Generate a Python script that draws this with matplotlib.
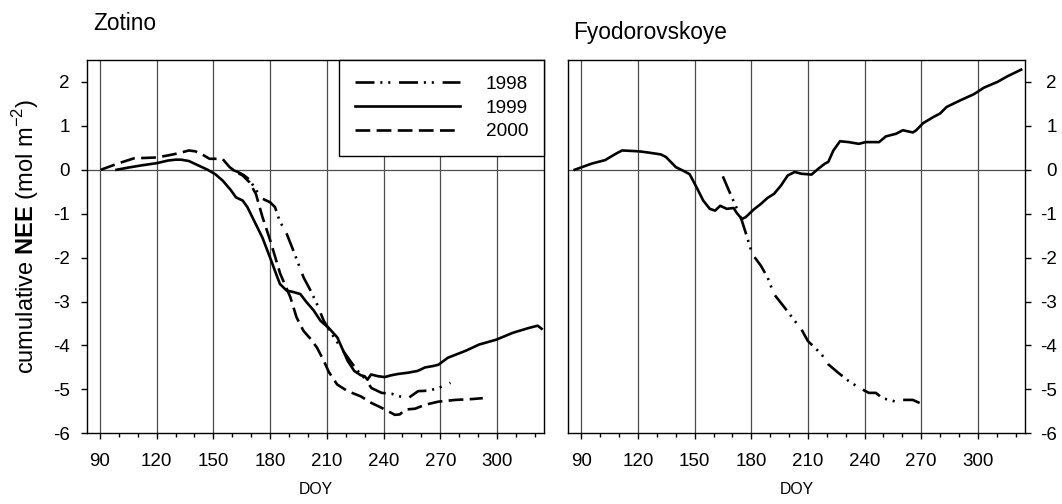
import matplotlib
matplotlib.use("Agg")
import matplotlib.pyplot as plt
from matplotlib.lines import Line2D

plt.rcParams['font.family'] = ['Liberation Sans', 'DejaVu Sans']
plt.rcParams['mathtext.fontset'] = 'custom'
plt.rcParams['mathtext.rm'] = 'Liberation Sans'
plt.rcParams['mathtext.bf'] = 'Liberation Sans:bold'
plt.rcParams['axes.unicode_minus'] = False

# Zotino
zot_1998_doy = [160, 163, 166, 169, 172.7, 176, 180, 182.6, 185, 188.8, 192.3, 197.7, 201.4, 204.8,
                208.4, 212.8, 217.6, 223, 226.4, 230, 233.6, 239, 244.3, 248.6, 253, 258.3, 263.7,
                269, 275.4]
zot_1998_nee = [0.0, -0.05, -0.12, -0.22, -0.47, -0.66, -0.74, -0.85, -1.16, -1.46, -1.84, -2.45,
                -2.75, -3.06, -3.44, -3.75, -4.06, -4.39, -4.58, -4.75, -4.97, -5.08, -5.1, -5.16,
                -5.2, -5.04, -5.03, -4.97, -4.85]

zot_1999_doy = [98.8, 105, 112, 120, 126, 130, 133, 137, 142, 147, 151, 155, 159, 162, 165.5, 168,
                172, 176, 180, 183, 185.2, 188.7, 192, 196, 199, 203, 206.7, 211, 215.6, 221,
                224.5, 228, 230, 231.5, 233.4, 237, 240.6, 244, 247.6, 253, 258, 262, 266, 269,
                274, 283.5, 290.5, 299.5, 308.5, 317, 321.5, 323.6]
zot_1999_nee = [0.0, 0.05, 0.1, 0.15, 0.21, 0.23, 0.23, 0.2, 0.1, 0.0, -0.1, -0.25, -0.45, -0.63,
                -0.7, -0.85, -1.2, -1.55, -2.0, -2.35, -2.6, -2.75, -2.78, -2.83, -3.0, -3.2,
                -3.44, -3.6, -3.82, -4.35, -4.58, -4.68, -4.7, -4.78, -4.66, -4.7, -4.72, -4.68,
                -4.65, -4.62, -4.58, -4.5, -4.47, -4.44, -4.28, -4.12, -3.98, -3.87, -3.71, -3.6,
                -3.55, -3.62]

zot_2000_doy = [90.5, 100, 108, 120, 126.4, 132, 137, 140.5, 144, 148, 152, 155, 158.6, 162,
                165.5, 169, 172.5, 176, 180, 185.3, 190.7, 194, 197.7, 201.4, 204.8, 208.4, 211,
                215.5, 221, 228, 233.6, 239, 242.5, 246, 248.6, 251.4, 256.7, 262, 269, 278, 287,
                292.5]
zot_2000_nee = [0.0, 0.15, 0.26, 0.28, 0.33, 0.38, 0.44, 0.42, 0.35, 0.25, 0.25, 0.24, 0.06, -0.05,
                -0.13, -0.28, -0.55, -1.08, -1.6, -2.36, -2.9, -3.36, -3.67, -3.85, -4.05, -4.35,
                -4.6, -4.89, -5.04, -5.16, -5.31, -5.42, -5.5, -5.58, -5.57, -5.46, -5.44, -5.35,
                -5.28, -5.24, -5.22, -5.2]

# Fyodorovskoye
fyo_1998_doy = [164.9, 168.9, 172.4, 175, 177.8, 180.5, 185, 188.6, 192, 197.5, 203, 206.5, 210,
                217.2, 220.8, 226, 231.6, 237, 242.3, 246, 249.5, 256.7, 260.3, 265.6, 269.2]
fyo_1998_nee = [-0.15, -0.55, -0.89, -1.16, -1.54, -1.92, -2.18, -2.45, -2.83, -3.13, -3.44, -3.63,
                -3.9, -4.2, -4.43, -4.62, -4.81, -4.96, -5.08, -5.08, -5.2, -5.28, -5.24, -5.24,
                -5.31]

fyo_1999_doy = [86.4, 95.4, 102.5, 108, 111.5, 120.5, 125.8, 132, 134.8, 140, 143.8, 147.3, 151,
                154.5, 158, 160.8, 163.5, 167, 170.6, 172.4, 175, 177, 181.4, 185, 188.6, 192,
                195.7, 199.3, 203, 206.5, 211.9, 215.4, 219, 220.8, 223.5, 227, 231.6, 237, 240.5,
                247.7, 251.3, 256.7, 260.3, 265.6, 267.4, 271, 276.4, 280, 283.5, 290.7, 297.9,
                303.3, 310.4, 315.8, 323]
fyo_1999_nee = [0.0, 0.14, 0.22, 0.36, 0.44, 0.42, 0.39, 0.35, 0.29, 0.06, -0.02, -0.1, -0.4, -0.7,
                -0.89, -0.93, -0.82, -0.89, -0.87, -0.99, -1.12, -1.08, -0.9, -0.78, -0.64, -0.55,
                -0.36, -0.13, -0.05, -0.09, -0.11, 0.02, 0.14, 0.18, 0.44, 0.65, 0.63, 0.59, 0.63,
                0.63, 0.76, 0.82, 0.9, 0.85, 0.9, 1.06, 1.2, 1.28, 1.43, 1.58, 1.72, 1.87, 2.0,
                2.13, 2.28]

years = ["1998", "1999", "2000"]
styles = {"1998": (0, (7.2, 2.2, 0.8, 2.2, 0.8, 3.3)),
          "1999": "-",
          "2000": (0, (5.6, 2.4))}
lw = 1.9
gridc = "#4d4d4d"

fig = plt.figure(figsize=(10.62, 5.04), dpi=100)
ax1 = fig.add_axes([0.0816, 0.1403, 0.4309, 0.7407])
ax2 = fig.add_axes([0.5351, 0.1403, 0.4300, 0.7407])

ax1.plot(zot_1998_doy, zot_1998_nee, color="black", lw=lw, ls=styles["1998"])
ax1.plot(zot_1999_doy, zot_1999_nee, color="black", lw=lw, ls=styles["1999"])
ax1.plot(zot_2000_doy, zot_2000_nee, color="black", lw=lw, ls=styles["2000"])
ax2.plot(fyo_1998_doy, fyo_1998_nee, color="black", lw=lw, ls=styles["1998"])
ax2.plot(fyo_1999_doy, fyo_1999_nee, color="black", lw=lw, ls=styles["1999"])

for ax in (ax1, ax2):
    ax.set_xlim(83, 325)
    ax.set_ylim(-6, 2.5)
    ax.set_xticks(range(90, 301, 30))
    ax.set_xticks(range(90, 325, 10), minor=True)
    ax.set_yticks(range(-6, 3))
    for x in range(90, 301, 30):
        ax.axvline(x, color=gridc, lw=0.9, zorder=0)
    ax.axhline(0, color=gridc, lw=0.9, zorder=0)
    ax.tick_params(axis="x", which="major", length=4, width=1, pad=10, labelsize=13.5)
    ax.tick_params(axis="x", which="minor", length=3, width=1)
    ax.tick_params(axis="y", length=4, width=1, labelsize=13.5)
    for s in ax.spines.values():
        s.set_linewidth(1)

ax1.tick_params(axis="y", pad=8)
ax2.yaxis.tick_right()
ax2.tick_params(axis="y", pad=19)
for lab in ax2.get_yticklabels():
    lab.set_horizontalalignment("right")

handles = [Line2D([], [], color="black", lw=lw, ls=styles[y]) for y in years]
leg = ax1.legend(handles, years, loc="upper right", bbox_to_anchor=(1, 1), borderaxespad=0,
                 fancybox=False, edgecolor="black", framealpha=1, fontsize=13.7,
                 handlelength=5.5, handletextpad=1.37, labelspacing=0.33, borderpad=0.83)
leg.get_frame().set_linewidth(1)

fig.text(0.0876, 0.954, "Zotino", fontsize=16.3, va="center", ha="left")
fig.text(0.5395, 0.9355, "Fyodorovskoye", fontsize=16.3, va="center", ha="left")
fig.text(0.297, 0.028, "DOY", fontsize=11.3, va="center", ha="center")
fig.text(0.750, 0.028, "DOY", fontsize=11.3, va="center", ha="center")
fig.text(0.0245, 0.53, r"cumulative $\mathbf{NEE}$ (mol m$^{\mathrm{-2}}$)", fontsize=17,
         rotation=90, va="center", ha="center")

fig.savefig("out.png", dpi=100)
